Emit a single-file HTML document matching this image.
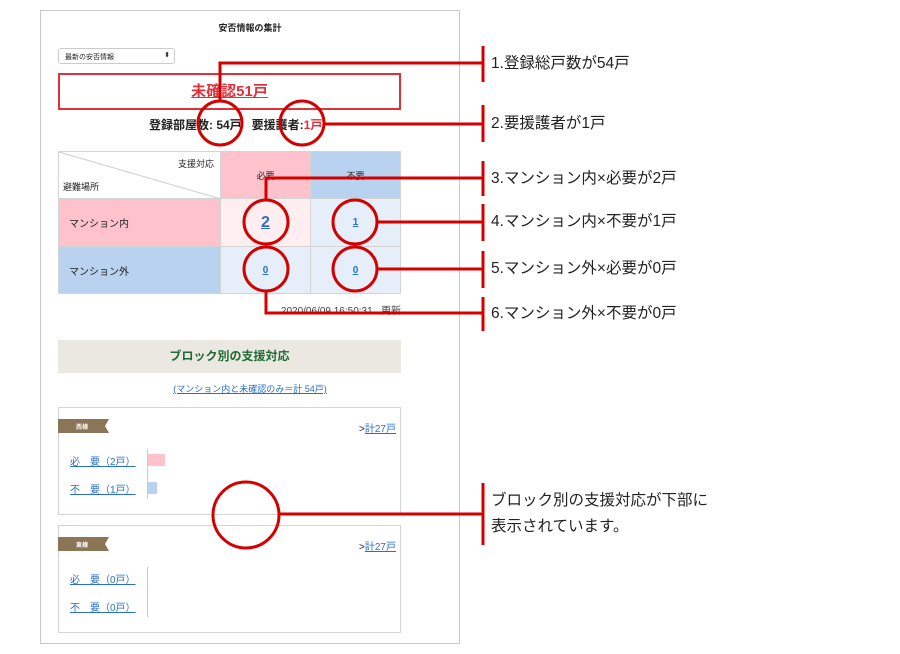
<!DOCTYPE html>
<html><head><meta charset="utf-8"><style>
*{margin:0;padding:0;box-sizing:border-box}
body{width:900px;height:654px;background:#fff;position:relative;overflow:hidden;font-family:"Liberation Sans","Noto Sans CJK JP",sans-serif;color:#222}
.a{position:absolute}
.lbl{position:absolute;left:491px;font-size:15.5px;color:#222;white-space:nowrap;line-height:18px}
a,.lk{color:#2a6fc9;text-decoration:underline}
td{border:1px solid #d4d4d4}
</style></head><body>
<div class="a" style="left:40px;top:10px;width:420px;height:634px;border:1px solid #c8c8c8"></div>
<div class="a" style="left:40px;top:21px;width:420px;text-align:center;font-size:9px;font-weight:bold">安否情報の集計</div>
<div class="a" style="left:58px;top:48px;width:117px;height:16px;border:1px solid #ccc;border-radius:3px;font-size:7px;padding:3px 0 0 6px">最新の安否情報<span style="position:absolute;right:4px;top:2px;font-size:7px">⬍</span></div>
<div class="a" style="left:58px;top:73px;width:343px;height:37px;border:2px solid #e0313b;text-align:center;font-size:15px;font-weight:bold;color:#e0313b;line-height:33px"><span style="text-decoration:underline">未確認51戸</span></div>
<div class="a" style="left:149px;top:116px;white-space:nowrap;font-size:12px;font-weight:bold">登録部屋数: 54戸 &nbsp; 要援護者:<span style="color:#e0313b">1戸</span></div>
<table class="a" style="left:58px;top:151px;width:343px;height:142px;border-collapse:collapse;font-size:9px">
<tr style="height:47px"><td style="width:162px;position:relative;background:#fff">
<svg class="a" style="left:0;top:0" width="162" height="47"><line x1="0" y1="0" x2="162" y2="47" stroke="#ccc"/></svg>
<span class="a" style="right:6px;top:5px">支援対応</span><span class="a" style="left:4px;bottom:5px">避難場所</span></td>
<td style="width:90px;background:#fdc2cc;text-align:center">必要</td><td style="background:#b8d2ef;text-align:center">不要</td></tr>
<tr style="height:48px"><td style="background:#fdc2cc;padding-left:10px;font-size:10px">マンション内</td><td style="background:#feeef0;text-align:center"><span class="lk" style="font-size:16px;font-weight:bold">2</span></td><td style="background:#e5eef9;text-align:center"><span class="lk" style="font-weight:bold;font-size:10px">1</span></td></tr>
<tr style="height:47px"><td style="background:#b8d2ef;padding-left:10px;font-size:10px">マンション外</td><td style="background:#e5eef9;text-align:center"><span class="lk" style="font-weight:bold;font-size:10px">0</span></td><td style="background:#e5eef9;text-align:center"><span class="lk" style="font-weight:bold;font-size:10px">0</span></td></tr>
</table>
<div class="a" style="left:200px;top:302px;width:201px;text-align:right;font-size:10px;color:#444">2020/06/09 16:50:31 &nbsp; 更新</div>
<div class="a" style="left:58px;top:340px;width:343px;height:33px;background:#ebe7e1;text-align:center;line-height:33px;font-size:12px;font-weight:bold;color:#1f6b33">ブロック別の支援対応</div>
<div class="a lk" style="left:40px;top:382px;width:420px;text-align:center;font-size:9px"><span class="lk">(マンション内と未確認のみ＝計 54戸)</span></div>
<div class="a" style="left:58px;top:407px;width:343px;height:108px;border:1px solid #d4d4d4"></div>
<div class="a" style="left:58px;top:525px;width:343px;height:108px;border:1px solid #d4d4d4"></div>
<svg class="a" style="left:58px;top:419px" width="52" height="14"><polygon points="0,0 51,0 47,7 51,14 0,14" fill="#8b7557"/><text x="18" y="10" font-size="6" fill="#fff" font-weight="bold">西棟</text></svg>
<svg class="a" style="left:58px;top:537px" width="52" height="14"><polygon points="0,0 51,0 47,7 51,14 0,14" fill="#8b7557"/><text x="18" y="10" font-size="6" fill="#fff" font-weight="bold">東棟</text></svg>
<div class="a" style="left:359px;top:420px;font-size:10px">&gt;<span class="lk">計27戸</span></div>
<div class="a" style="left:359px;top:538px;font-size:10px">&gt;<span class="lk">計27戸</span></div>
<div class="a lk" style="left:70px;top:453px;font-size:10px">必　要（2戸）</div>
<div class="a lk" style="left:70px;top:481px;font-size:10px">不　要（1戸）</div>
<div class="a lk" style="left:70px;top:571px;font-size:10px">必　要（0戸）</div>
<div class="a lk" style="left:70px;top:599px;font-size:10px">不　要（0戸）</div>
<div class="a" style="left:147px;top:449px;width:1px;height:50px;background:#ccc"></div>
<div class="a" style="left:147px;top:567px;width:1px;height:50px;background:#ccc"></div>
<div class="a" style="left:148px;top:454px;width:17px;height:12px;background:#fdc2cc"></div>
<div class="a" style="left:148px;top:482px;width:9px;height:12px;background:#b8d2ef"></div>
<svg class="a" style="left:0;top:0" width="900" height="654" fill="none" stroke="#d40000" stroke-width="3">
<circle cx="220" cy="123" r="22"/><circle cx="302" cy="123" r="22"/>
<circle cx="266" cy="222" r="22"/><circle cx="355" cy="222" r="22"/>
<circle cx="266" cy="269" r="22"/><circle cx="355" cy="269" r="22"/>
<circle cx="246" cy="515" r="33"/>
<polyline points="220,101 220,63 483,63"/><line x1="324" y1="124" x2="483" y2="124"/>
<polyline points="266,200 266,178 483,178"/><line x1="377" y1="222" x2="483" y2="222"/>
<line x1="377" y1="269" x2="483" y2="269"/><polyline points="266,291 266,313 483,313"/>
<line x1="279" y1="514" x2="483" y2="514"/>
<line x1="483" y1="46" x2="483" y2="82"/><line x1="483" y1="105" x2="483" y2="142"/>
<line x1="483" y1="161" x2="483" y2="196"/><line x1="483" y1="204" x2="483" y2="241"/>
<line x1="483" y1="251" x2="483" y2="288"/><line x1="483" y1="297" x2="483" y2="331"/>
<line x1="483" y1="483" x2="483" y2="545"/>
</svg>
<div class="lbl" style="top:55px">1.登録総戸数が54戸</div>
<div class="lbl" style="top:115px">2.要援護者が1戸</div>
<div class="lbl" style="top:170px">3.マンション内×必要が2戸</div>
<div class="lbl" style="top:213px">4.マンション内×不要が1戸</div>
<div class="lbl" style="top:260px">5.マンション外×必要が0戸</div>
<div class="lbl" style="top:305px">6.マンション外×不要が0戸</div>
<div class="lbl" style="top:492px">ブロック別の支援対応が下部に</div>
<div class="lbl" style="top:518px">表示されています。</div>
</body></html>
